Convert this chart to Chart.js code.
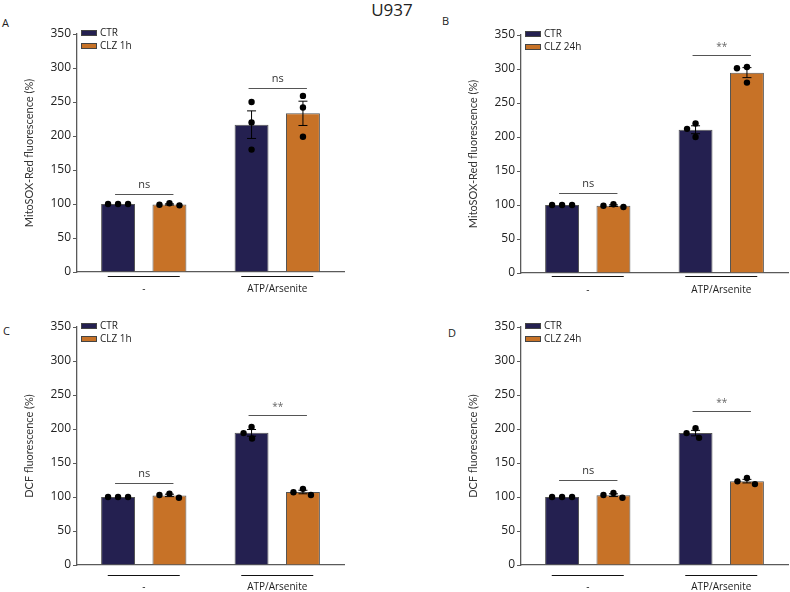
<!DOCTYPE html>
<html>
<head>
<meta charset="utf-8">
<script src="https://cdn.jsdelivr.net/npm/chart.js@4.4.0/dist/chart.umd.min.js"></script>
<style>
body { margin: 0; background: #fff; width: 790px; height: 592px; overflow: hidden; position: relative; font-family: "Open Sans", sans-serif; }
.pannello { position: absolute; width: 346px; height: 300px; }
.lettera { position: absolute; font-size: 11px; line-height: 1; color: #222; }
#titolo { position: absolute; left: 0; top: 1px; width: 784px; text-align: center; font-size: 17px; line-height: 1; color: #222; }
</style>
</head>
<body>
<div id="titolo">U937</div>
<div class="lettera" style="left:2px;top:17px">A</div>
<div class="lettera" style="left:442px;top:15px">B</div>
<div class="lettera" style="left:3px;top:325px">C</div>
<div class="lettera" style="left:448px;top:327px">D</div>

<div class="pannello" style="left:0;top:0"><canvas id="cA" width="346" height="300"></canvas></div>
<div class="pannello" style="left:444px;top:1px"><canvas id="cB" width="346" height="300"></canvas></div>
<div class="pannello" style="left:0;top:293px"><canvas id="cC" width="346" height="300"></canvas></div>
<div class="pannello" style="left:444px;top:293px"><canvas id="cD" width="346" height="300"></canvas></div>

<script>
// Categorie sull'asse x
const categorie = ['-', 'ATP/Arsenite'];

// Repliche (3 per barra): [gruppo "-", gruppo ATP/Arsenite]
const mitoCtr1h = [[100, 100, 100], [250, 220, 180]];
const mitoClz1h = [[101, 99, 98], [259, 242, 199]];
const mitoCtr24h = [[100, 100, 100], [220, 212, 200]];
const mitoClz24h = [[101, 99, 97], [303, 301, 280]];
const dcfCtr1h = [[100, 100, 100], [203, 194, 186]];
const dcfClz1h = [[105, 103, 99], [112, 107, 103]];
const dcfCtr24h = [[100, 100, 100], [201, 194, 187]];
const dcfClz24h = [[106, 103, 99], [128, 123, 119]];

// Significatività e altezza della linea di confronto (in %)
const sigA = ['ns', 'ns'], sigAy = [115, 271];
const sigB = ['ns', '**'], sigBy = [117, 320];
const sigC = ['ns', '**'], sigCy = [120, 220];
const sigD = ['ns', '**'], sigDy = [125, 227];

const FONT = '"Open Sans", sans-serif';
const BLU = '#242050';
const ARANCIO = '#c77227';
const ASSE = '#5a5a5a';
const CAT_PCT = 0.77, BAR_PCT = 0.66;
const DOT_GAP = 10;

function media(v) { return v.reduce((a, b) => a + b, 0) / v.length; }
function sem(v) {
    const m = media(v);
    const varianza = v.reduce((a, b) => a + (b - m) * (b - m), 0) / (v.length - 1);
    return Math.sqrt(varianza / v.length);
}

// Spostamento orizzontale (pixel) dei punti sovrapposti, tipo beeswarm
function sciame(pixelY) {
    const ord = pixelY.map((y, i) => ({ y, i })).sort((a, b) => a.y - b.y);
    const piazzati = [];
    const off = Array(pixelY.length).fill(0);
    ord.forEach(p => {
        for (let s = 0; s < 40; s += 0.5) {
            const prove = s === 0 ? [0] : [-s, s];
            const x = prove.find(xx => piazzati.every(q => Math.hypot(q.x - xx, q.y - p.y) >= DOT_GAP));
            if (x !== undefined) { off[p.i] = x; piazzati.push({ x, y: p.y }); break; }
        }
    });
    return off;
}

function creaPannello(idCanvas, ctrPunti, clzPunti, etichettaClz, titoloY, sig, sigY, distLinea, distTesto) {
    const mediaCtr = ctrPunti.map(media), mediaClz = clzPunti.map(media);
    const semCtr = ctrPunti.map(sem), semClz = clzPunti.map(sem);

    const extra = {
        id: 'extra',
        afterDatasetsDraw(chart) {
            const ctx = chart.ctx, y = chart.scales.y;
            ctx.save();
            ctx.strokeStyle = '#000';
            ctx.fillStyle = '#000';
            ctx.lineWidth = 1;
            [[semCtr, mediaCtr, ctrPunti], [semClz, mediaClz, clzPunti]].forEach(([errori, medie, punti], k) => {
                const meta = chart.getDatasetMeta(k);
                meta.data.forEach((bar, g) => {
                    // barra d'errore (SEM)
                    const top = y.getPixelForValue(medie[g] + errori[g]);
                    const bot = y.getPixelForValue(medie[g] - errori[g]);
                    if (Math.abs(bot - top) >= 1) {
                        ctx.beginPath();
                        ctx.moveTo(bar.x, top); ctx.lineTo(bar.x, bot);
                        ctx.moveTo(bar.x - 4.5, top); ctx.lineTo(bar.x + 4.5, top);
                        ctx.moveTo(bar.x - 4.5, bot); ctx.lineTo(bar.x + 4.5, bot);
                        ctx.stroke();
                    }
                    // punti delle repliche
                    const py = punti[g].map(v => y.getPixelForValue(v));
                    const off = sciame(py);
                    py.forEach((yy, i) => {
                        ctx.beginPath();
                        ctx.arc(bar.x + off[i], yy, 3.2, 0, Math.PI * 2);
                        ctx.fill();
                    });
                });
            });
            ctx.restore();
        },
        afterDraw(chart) {
            const ctx = chart.ctx, y = chart.scales.y, x = chart.scales.x;
            const area = chart.chartArea;
            const b0 = chart.getDatasetMeta(0).data, b1 = chart.getDatasetMeta(1).data;
            ctx.save();
            // linee di confronto con significatività
            categorie.forEach((c, g) => {
                const yy = Math.round(y.getPixelForValue(sigY[g])) + 0.5;
                ctx.strokeStyle = '#555';
                ctx.lineWidth = 1;
                ctx.beginPath();
                ctx.moveTo(b0[g].x - 3, yy); ctx.lineTo(b1[g].x + 4, yy);
                ctx.stroke();
                ctx.fillStyle = sig[g] === 'ns' ? '#333' : '#666';
                ctx.font = (sig[g] === 'ns' ? '11px ' : '10px ') + FONT;
                ctx.textAlign = 'center';
                ctx.textBaseline = 'middle';
                ctx.fillText(sig[g], (b0[g].x + b1[g].x) / 2 + 0.5, yy - (sig[g] === 'ns' ? 10 : 8));
                // linea sotto il gruppo
                const cx = x.getPixelForValue(g);
                const ly = Math.round(area.bottom + distLinea) + 0.5;
                ctx.strokeStyle = '#111';
                ctx.beginPath();
                ctx.moveTo(cx - 36, ly); ctx.lineTo(cx + 36, ly);
                ctx.stroke();
            });
            // legenda
            [['CTR', BLU], [etichettaClz, ARANCIO]].forEach(([txt, col], i) => {
                const ly = area.top - 1 + i * 13;
                ctx.fillStyle = col;
                ctx.fillRect(area.left + 4, ly - 3, 16, 6);
                ctx.strokeStyle = '#444';
                ctx.lineWidth = 1;
                ctx.strokeRect(area.left + 4.5, ly - 2.5, 15, 5);
                ctx.fillStyle = '#222';
                ctx.font = '10px ' + FONT;
                ctx.textAlign = 'left';
                ctx.textBaseline = 'middle';
                ctx.fillText(txt, area.left + 23, ly);
            });
            ctx.restore();
        }
    };

    new Chart(document.getElementById(idCanvas), {
        type: 'bar',
        data: {
            labels: categorie,
            datasets: [
                { label: 'CTR', data: mediaCtr, backgroundColor: BLU, borderColor: '#555', borderWidth: 1,
                  categoryPercentage: CAT_PCT, barPercentage: BAR_PCT },
                { label: etichettaClz, data: mediaClz, backgroundColor: ARANCIO, borderColor: '#555', borderWidth: 1,
                  categoryPercentage: CAT_PCT, barPercentage: BAR_PCT }
            ]
        },
        options: {
            responsive: false,
            animation: false,
            devicePixelRatio: 1,
            layout: { padding: { top: 34, right: 2, left: 0, bottom: 0 } },
            plugins: { legend: { display: false }, tooltip: { enabled: false } },
            scales: {
                x: {
                    grid: { drawOnChartArea: false, drawTicks: false },
                    border: { color: ASSE, width: 1.3 },
                    ticks: { color: '#222', font: { family: FONT, size: 10 }, padding: distTesto, maxRotation: 0 },
                    afterFit: s => { s.height = 28; }
                },
                y: {
                    min: 0,
                    max: 350,
                    ticks: {
                        stepSize: 25,
                        color: '#222',
                        padding: 2,
                        font: { family: FONT, size: 12 },
                        callback: v => (v % 50 === 0 ? v : '')
                    },
                    grid: { drawOnChartArea: false, tickLength: 4, color: ASSE },
                    border: { color: ASSE, width: 1.3 },
                    title: { display: true, text: titoloY, color: '#333', font: { family: 'Lato, sans-serif', size: 11 }, padding: { top: 23, bottom: 0 } },
                    afterFit: s => { s.width = 77; }
                }
            }
        },
        plugins: [extra]
    });
}

creaPannello('cA', mitoCtr1h, mitoClz1h, 'CLZ 1h', 'MitoSOX-Red fluorescence (%)', sigA, sigAy, 4, 11);
creaPannello('cB', mitoCtr24h, mitoClz24h, 'CLZ 24h', 'MitoSOX-Red fluorescence (%)', sigB, sigBy, 3, 11);
creaPannello('cC', dcfCtr1h, dcfClz1h, 'CLZ 1h', 'DCF fluorescence (%)', sigC, sigCy, 10, 16);
creaPannello('cD', dcfCtr24h, dcfClz24h, 'CLZ 24h', 'DCF fluorescence (%)', sigD, sigDy, 10, 16);
</script>
</body>
</html>
